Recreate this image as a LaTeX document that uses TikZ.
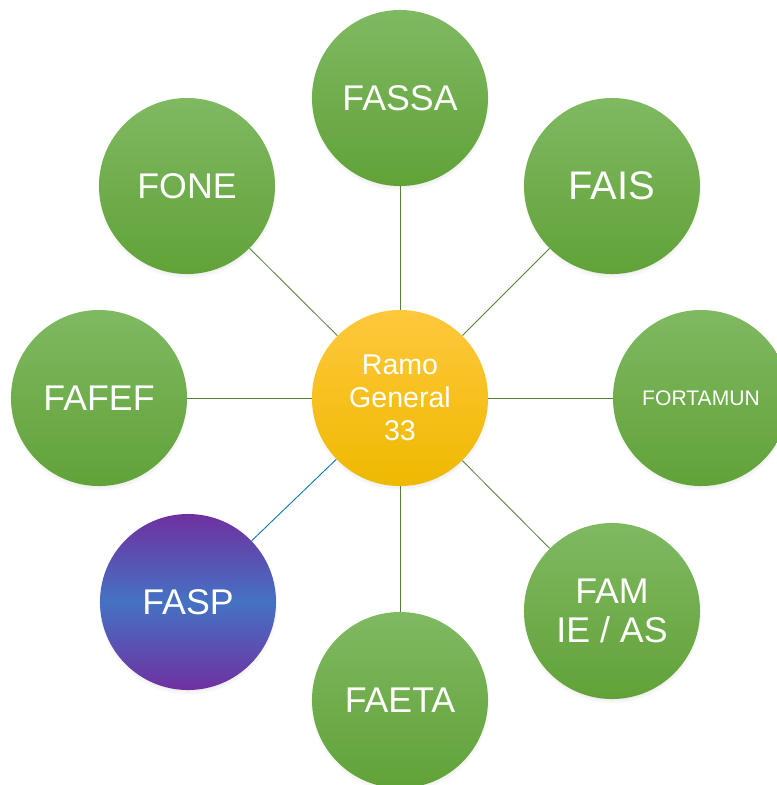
\documentclass[tikz,border=0pt]{standalone}
\usepackage{fontspec}
\setmainfont{Liberation Sans}
\usetikzlibrary{shadows}

\definecolor{leaftop}{HTML}{7FB962}
\definecolor{leafbot}{HTML}{61A238}
\definecolor{hubtop}{HTML}{FFC83D}
\definecolor{hubbot}{HTML}{EEB900}
\definecolor{fasppurple}{HTML}{7030A0}
\definecolor{faspblue}{HTML}{4472C4}
\definecolor{linkgreen}{HTML}{548235}
\definecolor{linkblue}{HTML}{0070C0}

\begin{document}
\begin{tikzpicture}[x=0.025cm, y=-0.025cm,
  base node/.style={circle, minimum size=4.4cm, inner sep=0pt, text=white, align=center,
    circular drop shadow={shadow xshift=0pt, shadow yshift=-2pt, shadow scale=1.02, opacity=0.35}},
  main node/.style={base node, top color=leaftop, bottom color=leafbot, font=\fontsize{25.4}{27.7}\selectfont},
  hub node/.style={base node, top color=hubtop, bottom color=hubbot, font=\fontsize{20.3}{23.5}\selectfont},
  side node/.style={base node, top color=fasppurple, bottom color=fasppurple, middle color=faspblue, font=\fontsize{25.4}{27.7}\selectfont},
  link/.style={draw=linkgreen, line width=0.6pt},
  side link/.style={draw=linkblue, line width=0.6pt}]
  \useasboundingbox (0,0) rectangle (777,785);

  % centre
  \node[hub node] (hub) at (400,398) {Ramo\\General\\33};

  % ring of funds
  \node[main node] (fassa) at (400,98) {FASSA};
  \node[main node, font=\fontsize{28.4}{30}\selectfont] (fais) at (612,186) {FAIS};
  \node[main node, font=\fontsize{15}{17}\selectfont] (fortamun) at (701,398) {FORTAMUN};
  \node[main node] (fam) at (612,611) {FAM\\IE / AS};
  \node[main node] (faeta) at (400,700) {FAETA};
  \node[side node] (fasp) at (188,602) {FASP};
  \node[main node] (fafef) at (99,398) {FAFEF};
  \node[main node] (fone) at (187,186) {FONE};

\path (hub) edge[link] (fassa)
(hub) edge[link] (fais)
(hub) edge[link] (fortamun)
(hub) edge[link] (fam)
(hub) edge[link] (faeta)
(hub) edge[side link] (fasp)
(hub) edge[link] (fafef)
(hub) edge[link] (fone);
\end{tikzpicture}
\end{document}
